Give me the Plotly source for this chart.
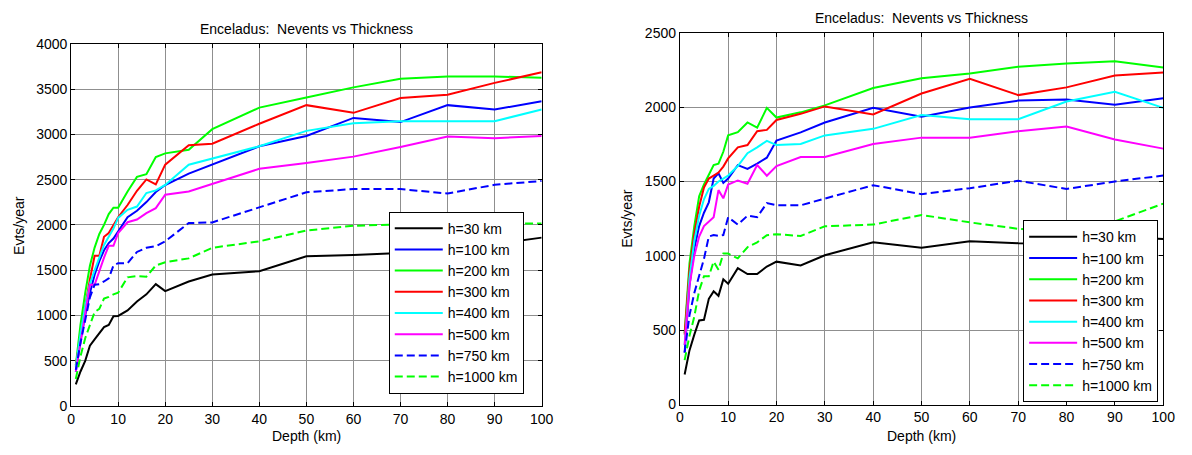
import plotly.graph_objects as go

depth = [1, 2, 3, 4, 5, 6, 7, 8, 9, 10, 12, 14, 16, 18, 20, 25, 30, 40, 50, 60, 70, 80, 90, 100]
labels = ["h=30 km", "h=100 km", "h=200 km", "h=300 km", "h=400 km", "h=500 km", "h=750 km", "h=1000 km"]

# Left panel
L_h30 = [240, 383, 500, 667, 738, 800, 872, 897, 993, 996, 1057, 1156, 1234, 1347, 1270, 1376, 1454, 1489, 1655, 1669, 1690, 1740, 1790, 1860]
L_h100 = [380, 720, 1000, 1250, 1450, 1600, 1720, 1800, 1850, 1930, 2085, 2156, 2252, 2363, 2440, 2566, 2665, 2868, 2981, 3181, 3135, 3322, 3273, 3365]
L_h200 = [450, 900, 1250, 1550, 1750, 1900, 2000, 2120, 2190, 2190, 2370, 2530, 2560, 2750, 2790, 2830, 3057, 3295, 3407, 3518, 3614, 3638, 3638, 3624]
L_h300 = [450, 800, 1100, 1400, 1660, 1660, 1870, 1910, 2000, 2085, 2220, 2377, 2502, 2448, 2665, 2879, 2897, 3117, 3322, 3237, 3401, 3436, 3568, 3684]
L_h400 = [430, 800, 1100, 1350, 1500, 1650, 1780, 1870, 1960, 2078, 2167, 2203, 2352, 2381, 2441, 2665, 2733, 2868, 3038, 3123, 3145, 3145, 3145, 3273]
L_h500 = [380, 700, 1050, 1340, 1340, 1500, 1640, 1770, 1770, 1910, 2030, 2060, 2130, 2185, 2334, 2370, 2452, 2619, 2683, 2754, 2861, 2975, 2957, 2981]
L_h750 = [400, 700, 950, 1200, 1340, 1347, 1376, 1411, 1553, 1578, 1578, 1702, 1748, 1766, 1819, 2021, 2028, 2194, 2361, 2396, 2396, 2347, 2443, 2485]
L_h1000 = [300, 550, 750, 900, 1039, 1074, 1188, 1206, 1234, 1252, 1422, 1436, 1429, 1553, 1589, 1631, 1748, 1819, 1938, 1991, 2006, 2010, 2010, 2017]

# Right panel
R_h30 = [202, 364, 470, 566, 570, 711, 761, 731, 842, 813, 917, 878, 878, 928, 961, 935, 1004, 1091, 1054, 1098, 1085, 1080, 1130, 1113]
R_h100 = [350, 800, 1050, 1200, 1290, 1360, 1520, 1555, 1490, 1520, 1610, 1585, 1620, 1660, 1775, 1830, 1897, 1995, 1936, 1998, 2044, 2051, 2016, 2060]
R_h200 = [480, 950, 1200, 1400, 1480, 1550, 1610, 1620, 1700, 1810, 1832, 1897, 1862, 1995, 1930, 1965, 2012, 2129, 2194, 2227, 2272, 2294, 2309, 2266]
R_h300 = [470, 900, 1150, 1330, 1460, 1520, 1540, 1560, 1600, 1655, 1730, 1745, 1838, 1847, 1914, 1955, 2005, 1951, 2092, 2190, 2081, 2133, 2213, 2233]
R_h400 = [400, 850, 1100, 1270, 1380, 1450, 1470, 1500, 1520, 1540, 1604, 1690, 1730, 1773, 1745, 1752, 1810, 1854, 1947, 1919, 1919, 2038, 2103, 1995]
R_h500 = [400, 800, 1000, 1130, 1200, 1230, 1260, 1442, 1387, 1479, 1507, 1485, 1611, 1539, 1604, 1665, 1665, 1752, 1795, 1795, 1838, 1869, 1782, 1721]
R_h750 = [350, 600, 750, 870, 980, 1130, 1140, 1135, 1140, 1260, 1210, 1270, 1260, 1355, 1340, 1340, 1385, 1475, 1415, 1455, 1505, 1450, 1500, 1540]
R_h1000 = [299, 462, 592, 766, 863, 863, 961, 907, 1015, 1015, 983, 1058, 1091, 1139, 1145, 1134, 1199, 1210, 1275, 1225, 1182, 1170, 1232, 1351]

colors = ["#000000", "#0000ff", "#00ff00", "#ff0000", "#00ffff", "#ff00ff", "#0000ff", "#00ff00"]
dashes = ["solid", "solid", "solid", "solid", "solid", "solid", "8px,4px", "8px,4px"]

left = [L_h30, L_h100, L_h200, L_h300, L_h400, L_h500, L_h750, L_h1000]
right = [R_h30, R_h100, R_h200, R_h300, R_h400, R_h500, R_h750, R_h1000]

FONT = "Liberation Sans, Arial, sans-serif"
fig = go.Figure()
for i, ys in enumerate(left):
    fig.add_trace(go.Scatter(x=depth, y=ys, mode="lines", name=labels[i],
                             line=dict(color=colors[i], width=2, dash=dashes[i]),
                             xaxis="x", yaxis="y", legend="legend"))
for i, ys in enumerate(right):
    fig.add_trace(go.Scatter(x=depth, y=ys, mode="lines", name=labels[i],
                             line=dict(color=colors[i], width=2, dash=dashes[i]),
                             xaxis="x2", yaxis="y2", legend="legend2"))

W, H = 1192, 455
def px(xp):
    return xp / W
def py(yp):
    return 1 - yp / H

axis_common = dict(showline=True, linecolor="black", linewidth=1, mirror="ticks",
                   ticks="inside", ticklen=4, tickcolor="black",
                   showgrid=True, gridcolor="#8f8f8f", gridwidth=1, zeroline=False,
                   tickfont=dict(family=FONT, size=14, color="black"))

fig.update_layout(
    width=W, height=H, margin=dict(l=0, r=0, t=0, b=0),
    paper_bgcolor="white", plot_bgcolor="white",
    font=dict(family=FONT, size=14, color="black"),
    xaxis=dict(domain=[px(68), px(545)], range=[0, 100], dtick=10, anchor="y", **axis_common),
    yaxis=dict(domain=[py(412.7), py(37)], range=[0, 4000], dtick=500, anchor="x", **axis_common),
    xaxis2=dict(domain=[px(685), px(1175)], range=[0, 100], dtick=10, anchor="y2", **axis_common),
    yaxis2=dict(domain=[py(411), py(25.7)], range=[0, 2500], dtick=500, anchor="x2", **axis_common),
    legend=dict(x=px(390), y=py(211), xanchor="left", yanchor="top",
                bgcolor="white", bordercolor="black", borderwidth=1,
                font=dict(family=FONT, size=14), itemwidth=48, tracegroupgap=0),
    legend2=dict(x=px(1033), y=py(220), xanchor="left", yanchor="top",
                 bgcolor="white", bordercolor="black", borderwidth=1,
                 font=dict(family=FONT, size=14), itemwidth=48, tracegroupgap=0),
    showlegend=True,
)

ann = [
    dict(text="Enceladus:  Nevents vs Thickness", x=px(306.5), y=py(22), xref="paper", yref="paper",
         showarrow=False, xanchor="center", yanchor="middle", font=dict(family=FONT, size=14)),
    dict(text="Enceladus:  Nevents vs Thickness", x=px(930), y=py(10), xref="paper", yref="paper",
         showarrow=False, xanchor="center", yanchor="middle", font=dict(family=FONT, size=14)),
    dict(text="Depth (km)", x=px(306.5), y=py(444), xref="paper", yref="paper",
         showarrow=False, xanchor="center", yanchor="middle", font=dict(family=FONT, size=14)),
    dict(text="Depth (km)", x=px(930), y=py(444), xref="paper", yref="paper",
         showarrow=False, xanchor="center", yanchor="middle", font=dict(family=FONT, size=14)),
    dict(text="Evts/year", x=px(15), y=py(225), xref="paper", yref="paper", textangle=-90,
         showarrow=False, xanchor="center", yanchor="middle", font=dict(family=FONT, size=14)),
    dict(text="Evts/year", x=px(632), y=py(218), xref="paper", yref="paper", textangle=-90,
         showarrow=False, xanchor="center", yanchor="middle", font=dict(family=FONT, size=14)),
]
fig.update_layout(annotations=ann)

fig.write_html("out.html")
